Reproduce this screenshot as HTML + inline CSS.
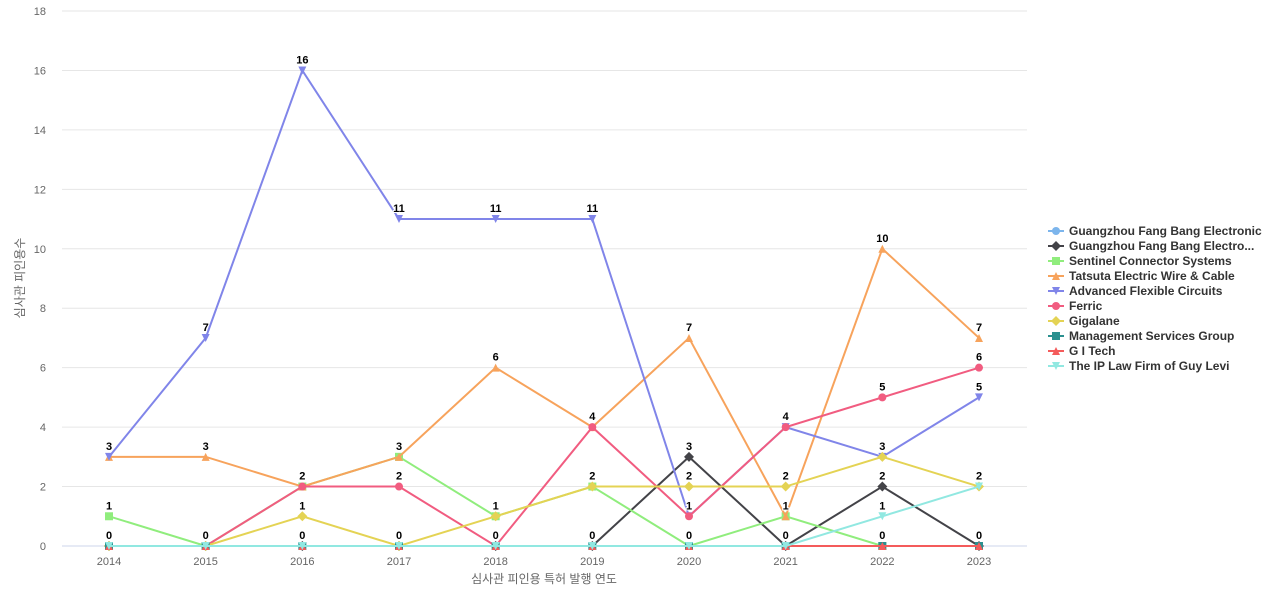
<!DOCTYPE html>
<html><head><meta charset="utf-8"><style>
body{margin:0;background:#fff;font-family:"Liberation Sans","Noto Sans CJK KR",sans-serif}
svg text{font-family:"Liberation Sans","Noto Sans CJK KR",sans-serif}
</style></head><body>
<svg id="chart" width="1280" height="600" xmlns="http://www.w3.org/2000/svg">
<g id="grid"></g>
<g id="series"></g>
<g id="labels"></g>
<g id="legend"></g>
<text x="24" y="278" transform="rotate(-90 24 278)" text-anchor="middle" font-size="12" fill="#666">심사관 피인용수</text>
<text x="544" y="583" text-anchor="middle" font-size="12" fill="#666">심사관 피인용 특허 발행 연도</text>
</svg>
<script>
const years=[2014,2015,2016,2017,2018,2019,2020,2021,2022,2023];
const yTicks=[0,2,4,6,8,10,12,14,16,18];
const seriesNames=["Guangzhou Fang Bang Electronic","Guangzhou Fang Bang Electro...","Sentinel Connector Systems","Tatsuta Electric Wire & Cable","Advanced Flexible Circuits","Ferric","Gigalane","Management Services Group","G I Tech","The IP Law Firm of Guy Levi"];
const s0=[0,0,0,0,0,0,0,0,0,0];
const s1=[0,0,0,0,0,0,3,0,2,0];
const s2=[1,0,2,3,1,2,0,1,0,0];
const s3=[3,3,2,3,6,4,7,1,10,7];
const s4=[3,7,16,11,11,11,1,4,3,5];
const s5=[0,0,2,2,0,4,1,4,5,6];
const s6=[0,0,1,0,1,2,2,2,3,2];
const s7=[0,0,0,0,0,0,0,0,0,0];
const s8=[0,0,0,0,0,0,0,0,0,0];
const s9=[0,0,0,0,0,0,0,0,1,2];
const seriesValues=[s0,s1,s2,s3,s4,s5,s6,s7,s8,s9];
const colors=["#7cb5ec","#434348","#90ed7d","#f7a35c","#8085e9","#f15c80","#e4d354","#2b908f","#f45b5b","#91e8e1"];
const markers=["circle","diamond","square","up","down","circle","diamond","square","up","down"];
const NS="http://www.w3.org/2000/svg";
const x=i=>109+i*(979-109)/(years.length-1);
const y=v=>546-v*(546-11)/18;
function mk(tag,at,parent){const e=document.createElementNS(NS,tag);for(const k in at)e.setAttribute(k,at[k]);parent.appendChild(e);return e;}
function marker(type,cx,cy,c,parent,r){
 let e;
 if(type==="circle")e=mk("circle",{cx,cy,r:r,fill:c},parent);
 else if(type==="square")e=mk("rect",{x:cx-r,y:cy-r,width:2*r,height:2*r,fill:c},parent);
 else if(type==="diamond")e=mk("path",{d:`M${cx} ${cy-r-1}L${cx+r+1} ${cy}L${cx} ${cy+r+1}L${cx-r-1} ${cy}Z`,fill:c},parent);
 else if(type==="up")e=mk("path",{d:`M${cx} ${cy-r}L${cx+r} ${cy+r}L${cx-r} ${cy+r}Z`,fill:c},parent);
 else e=mk("path",{d:`M${cx} ${cy+r}L${cx+r} ${cy-r}L${cx-r} ${cy-r}Z`,fill:c},parent);
 return e;
}
const grid=document.getElementById('grid');
yTicks.forEach(t=>{
 const l=mk("line",{x1:62,x2:1027,y1:y(t),y2:y(t),stroke:t===0?"#ccd6eb":"#e6e6e6","stroke-width":1},grid);
 
 
 const tx=mk("text",{x:46,y:y(t)+4,"text-anchor":"end","font-size":11,fill:"#666"},grid);
 tx.textContent=t;
 
 
});
years.forEach((yr,i)=>{
 const tx=mk("text",{x:x(i),y:565,"text-anchor":"middle","font-size":11,fill:"#666"},grid);
 tx.textContent=yr;
 
 
});
const sg=document.getElementById('series'),lg=document.getElementById('labels'),leg=document.getElementById('legend');
seriesValues.forEach((vals,si)=>{
 const g=mk("g",{},sg);
 
 
 const p=mk("path",{d:vals.map((v,i)=>(i?"L":"M")+x(i)+" "+y(v)).join(""),fill:"none",stroke:colors[si],"stroke-width":2},g);
 
 
 vals.forEach((v,i)=>{
  const m=marker(markers[si],x(i),y(v),colors[si],g,4);
  
  
  const t=mk("text",{x:x(i),y:y(v)-7,"text-anchor":"middle","font-size":11,"font-weight":"bold",fill:"#000",stroke:"#fff","stroke-width":2,"paint-order":"stroke"},lg);
  t.textContent=v;
  
  
 });
 const ly=231+si*15;
 const e=mk("g",{},leg);
 
 
 mk("line",{x1:1048,x2:1064,y1:ly,y2:ly,stroke:colors[si],"stroke-width":2},e);
 marker(markers[si],1056,ly,colors[si],e,4);
 const t=mk("text",{x:1069,y:ly+4,"font-size":12,"font-weight":"bold",fill:"#333"},e);
 t.textContent=seriesNames[si];
});
</script>
</body></html>
